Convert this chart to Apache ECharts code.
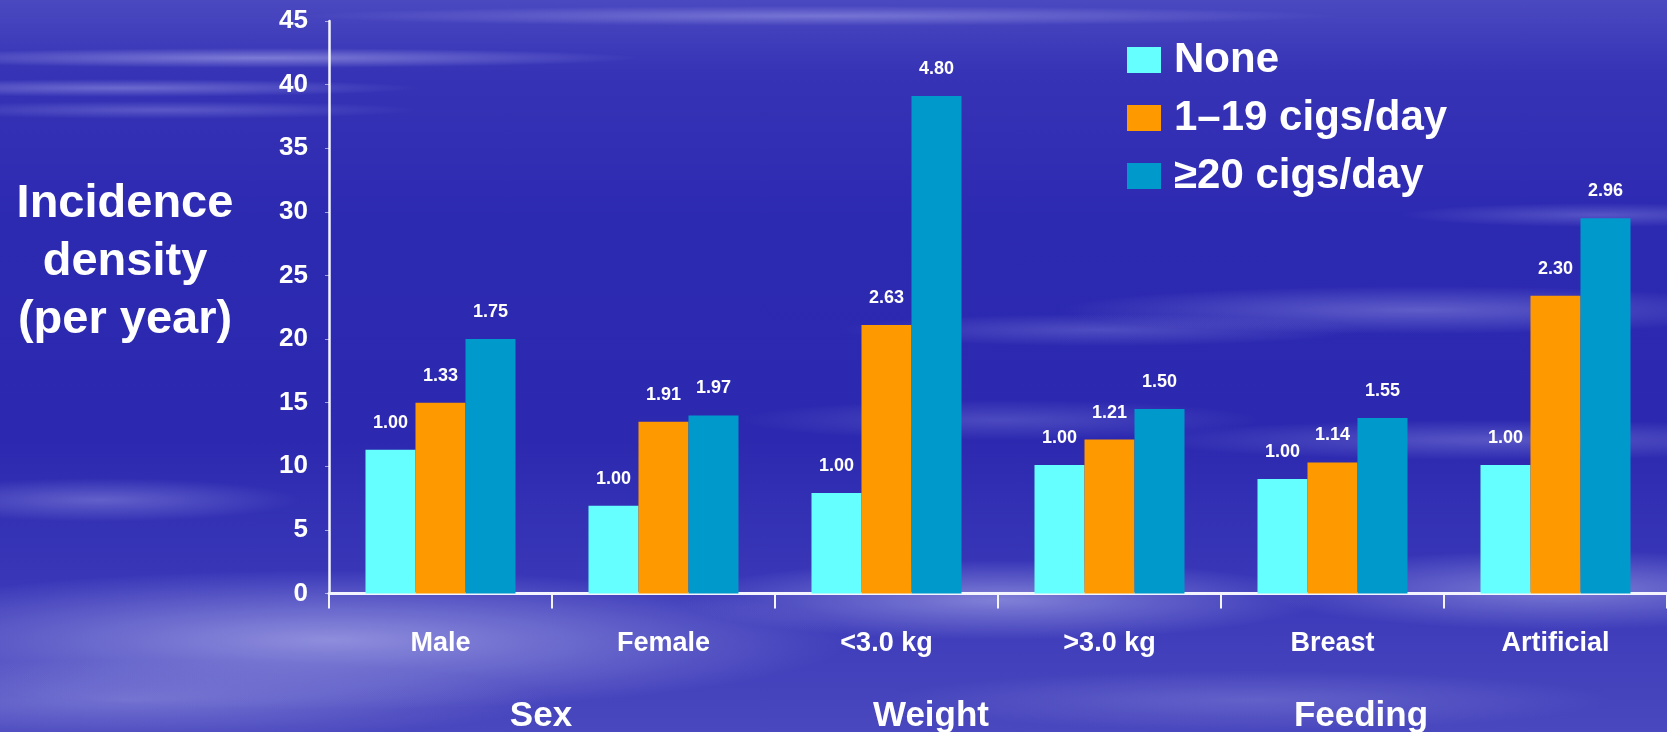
<!DOCTYPE html>
<html>
<head>
<meta charset="utf-8">
<title>Incidence density by smoking exposure</title>
<script src="https://cdn.jsdelivr.net/npm/echarts@6/dist/echarts.min.js"></script>
<style>
  html, body { margin: 0; padding: 0; }
  #chart {
    width: 1667px;
    height: 732px;
    /* sky-blue slide backdrop with soft cloud streaks */
    background:
      radial-gradient(ellipse 520px 10px at 820px 16px, rgba(190,190,245,0.40), rgba(190,190,245,0) 100%),
      radial-gradient(ellipse 380px 10px at 260px 58px, rgba(205,205,250,0.45), rgba(205,205,250,0) 100%),
      radial-gradient(ellipse 300px 9px at 120px 88px, rgba(190,190,245,0.40), rgba(190,190,245,0) 100%),
      radial-gradient(ellipse 260px 9px at 160px 110px, rgba(180,180,240,0.30), rgba(180,180,240,0) 100%),
      radial-gradient(ellipse 200px 12px at 1600px 215px, rgba(180,180,240,0.30), rgba(180,180,240,0) 100%),
      radial-gradient(ellipse 360px 24px at 1420px 310px, rgba(170,170,235,0.40), rgba(170,170,235,0) 100%),
      radial-gradient(ellipse 260px 16px at 1100px 330px, rgba(160,160,230,0.30), rgba(160,160,230,0) 100%),
      radial-gradient(ellipse 360px 20px at 1500px 440px, rgba(170,170,235,0.35), rgba(170,170,235,0) 100%),
      radial-gradient(ellipse 260px 20px at 1000px 420px, rgba(160,160,230,0.28), rgba(160,160,230,0) 100%),
      radial-gradient(ellipse 200px 22px at 100px 500px, rgba(170,170,235,0.40), rgba(170,170,235,0) 100%),
      radial-gradient(ellipse 520px 70px at 330px 640px, rgba(175,175,235,0.70), rgba(175,175,235,0) 100%),
      radial-gradient(ellipse 320px 40px at 1000px 600px, rgba(175,175,235,0.60), rgba(175,175,235,0) 100%),
      radial-gradient(ellipse 300px 40px at 1560px 590px, rgba(175,175,235,0.55), rgba(175,175,235,0) 100%),
      radial-gradient(ellipse 420px 40px at 130px 700px, rgba(150,150,225,0.55), rgba(150,150,225,0) 100%),
      radial-gradient(ellipse 360px 30px at 1250px 700px, rgba(140,140,220,0.40), rgba(140,140,220,0) 100%),
      linear-gradient(to bottom, #4B49C0 0%, #3633B6 10%, #2D2AB2 30%, #2C29B0 60%, #3A38B8 80%, #4A48BE 100%);
  }
</style>
</head>
<body>
<div id="chart"></div>
<script>
// Categories along the x axis
const categories = ['Male', 'Female', '<3.0 kg', '>3.0 kg', 'Breast', 'Artificial'];

// Series names (cigarettes smoked per day)
const seriesNames = ['None', '1\u201319 cigs/day', '\u226520 cigs/day'];

// Incidence density (per year) for each exposure group
const noneValues  = [11.3, 6.9, 7.9, 10.1, 9.0, 10.1];
const lightValues = [15.0, 13.5, 21.1, 12.1, 10.3, 23.4];
const heavyValues = [20.0, 14.0, 39.1, 14.5, 13.8, 29.5];

// Rate ratios printed above each bar (relative to non-smokers)
const noneRatios  = [1.00, 1.00, 1.00, 1.00, 1.00, 1.00];
const lightRatios = [1.33, 1.91, 2.63, 1.21, 1.14, 2.30];
const heavyRatios = [1.75, 1.97, 4.80, 1.50, 1.55, 2.96];

// Grouping captions under the category labels
const groupLabels = ['Sex', 'Weight', 'Feeding'];

// Y axis tick range
const yMin = 0, yMax = 45, yStep = 5;

const colors = ['#66FFFF', '#FF9900', '#0099CC'];
const FONT = '"Liberation Sans", Arial, Helvetica, sans-serif';

const chart = echarts.init(document.getElementById('chart'), null, { renderer: 'canvas' });

function barSeries(name, values, ratios, color) {
  return {
    name: name,
    type: 'bar',
    data: values,
    barWidth: 50,
    barGap: '0%',
    itemStyle: { color: color },
    label: {
      show: true,
      position: 'top',
      distance: 18,
      color: '#FFFFFF',
      fontFamily: FONT,
      fontWeight: 'bold',
      fontSize: 18,
      formatter: (p) => ratios[p.dataIndex].toFixed(2)
    },
    emphasis: { disabled: true }
  };
}

const groupCenters = [541, 931, 1361];

chart.setOption({
  animation: false,
  backgroundColor: 'transparent',
  textStyle: { fontFamily: FONT },
  grid: { left: 329, top: 21, width: 1341, height: 572.5, containLabel: false },
  legend: {
    orient: 'vertical',
    left: 1127,
    top: 31,
    padding: 0,
    itemGap: 0,
    itemWidth: 34,
    itemHeight: 26,
    icon: 'rect',
    selectedMode: false,
    data: seriesNames,
    textStyle: {
      color: '#FFFFFF',
      fontFamily: FONT,
      fontWeight: 'bold',
      fontSize: 42,
      lineHeight: 58,
      padding: [0, 0, 0, 8]
    }
  },
  xAxis: {
    type: 'category',
    data: categories,
    axisLine: { show: true, lineStyle: { color: '#F4F4FF', width: 3 } },
    axisTick: { show: true, length: 15, lineStyle: { color: '#F4F4FF', width: 2 } },
    axisLabel: {
      color: '#FFFFFF',
      fontFamily: FONT,
      fontWeight: 'bold',
      fontSize: 27,
      margin: 37
    },
    splitLine: { show: false }
  },
  yAxis: {
    type: 'value',
    min: yMin,
    max: yMax,
    interval: yStep,
    axisLine: { show: true, lineStyle: { color: '#F4F4FF', width: 2.5 } },
    axisTick: { show: true, length: 4, lineStyle: { color: 'rgba(255,255,255,0.55)', width: 1 } },
    axisLabel: {
      color: '#FFFFFF',
      fontFamily: FONT,
      fontWeight: 'bold',
      fontSize: 26,
      margin: 21
    },
    splitLine: { show: false }
  },
  graphic: [
    {
      type: 'text',
      x: 125,
      y: 175,
      style: {
        text: 'Incidence\ndensity\n(per year)',
        align: 'center',
        verticalAlign: 'top',
        fill: '#FFFFFF',
        fontFamily: FONT,
        fontWeight: 'bold',
        fontSize: 47,
        lineHeight: 58
      }
    }
  ].concat(groupLabels.map((t, i) => ({
    type: 'text',
    x: groupCenters[i],
    y: 716,
    style: {
      text: t,
      align: 'center',
      verticalAlign: 'middle',
      fill: '#FFFFFF',
      fontFamily: FONT,
      fontWeight: 'bold',
      fontSize: 35
    }
  }))),
  series: [
    barSeries(seriesNames[0], noneValues, noneRatios, colors[0]),
    barSeries(seriesNames[1], lightValues, lightRatios, colors[1]),
    barSeries(seriesNames[2], heavyValues, heavyRatios, colors[2])
  ]
});
</script>
</body>
</html>
